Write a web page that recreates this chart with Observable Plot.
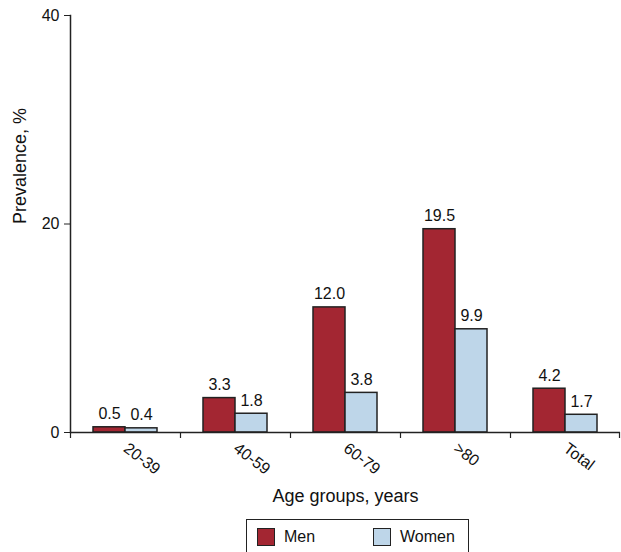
<!DOCTYPE html>
<html>
<head>
<meta charset="utf-8">
<script src="https://cdn.jsdelivr.net/npm/d3@7"></script>
<script src="https://cdn.jsdelivr.net/npm/@observablehq/plot@0.6"></script>
<style>
  body { margin: 0; background: #fff; font-family: "Liberation Sans", Arial, sans-serif; }
  #legend { position: absolute; left: 246px; top: 519px; width: 223px; height: 40px; border: 1.5px solid #222; box-sizing: border-box; font-size: 16px; color: #111; }
  .item { position: absolute; top: 8px; display: flex; align-items: center; }
  .sw { width: 18px; height: 18px; border: 1.5px solid #222; box-sizing: border-box; margin-right: 9px; }
</style>
</head>
<body>
<div id="chart"></div>
<div id="legend">
  <div class="item" style="left:10px"><div class="sw" style="background:#a32632"></div><span>Men</span></div>
  <div class="item" style="left:126px"><div class="sw" style="background:#bed6e9"></div><span>Women</span></div>
</div>
<script>
const groups = ["20-39", "40-59", "60-79", ">80", "Total"];
const men = [0.5, 3.3, 12.0, 19.5, 4.2];
const women = [0.4, 1.8, 3.8, 9.9, 1.7];
const yTicks = [0, 20, 40];

const menData = groups.map((g, i) => ({group: g, value: men[i]}));
const womenData = groups.map((g, i) => ({group: g, value: women[i]}));

const red = "#a32632", blue = "#bed6e9", edge = "#222";

const chart = Plot.plot({
  width: 621,
  height: 514,
  marginLeft: 70,
  marginRight: 1,
  marginTop: 15,
  marginBottom: 82,
  style: {fontFamily: "Liberation Sans, Arial, sans-serif", fontSize: "16px", color: "#111", background: "#fff"},
  x: {domain: groups, padding: 0, axis: null},
  y: {domain: [0, 40], axis: null},
  marks: [
    Plot.barY(menData, {x: "group", y: "value", fill: red, stroke: edge, strokeWidth: 1.5, insetLeft: 23, insetRight: 55}),
    Plot.barY(womenData, {x: "group", y: "value", fill: blue, stroke: edge, strokeWidth: 1.5, insetLeft: 55, insetRight: 23}),
    Plot.text(menData, {x: "group", y: "value", text: d => d.value.toFixed(1), dx: -16, dy: -8, lineAnchor: "bottom", fontSize: 16}),
    Plot.text(womenData, {x: "group", y: "value", text: d => d.value.toFixed(1), dx: 16, dy: -8, lineAnchor: "bottom", fontSize: 16}),
    Plot.axisY({ticks: yTicks, tickSize: 6, tickPadding: 5, label: null, fontSize: 16, stroke: edge}),
    Plot.frame({anchor: "left", stroke: edge, strokeWidth: 1.5}),
    Plot.ruleY([0], {stroke: edge, strokeWidth: 1.5}),
    Plot.ruleX(groups, {x: d => d, dx: -55, insetTop: 417, insetBottom: -6, stroke: edge, strokeWidth: 1.2}),
    Plot.ruleX(groups.slice(-1), {x: d => d, dx: 54, insetTop: 417, insetBottom: -6, stroke: edge, strokeWidth: 1.2}),
    Plot.text(groups, {x: d => d, frameAnchor: "bottom", rotate: 37, textAnchor: "start", lineAnchor: "middle", dx: 0, dy: 14, fontSize: 16}),
    Plot.text(["Age groups, years"], {frameAnchor: "bottom", lineAnchor: "middle", dy: 64, fontSize: 18}),
    Plot.text(["Prevalence, %"], {frameAnchor: "left", rotate: -90, dx: -50, fontSize: 18})
  ]
});
document.getElementById("chart").appendChild(chart);
</script>
</body>
</html>
